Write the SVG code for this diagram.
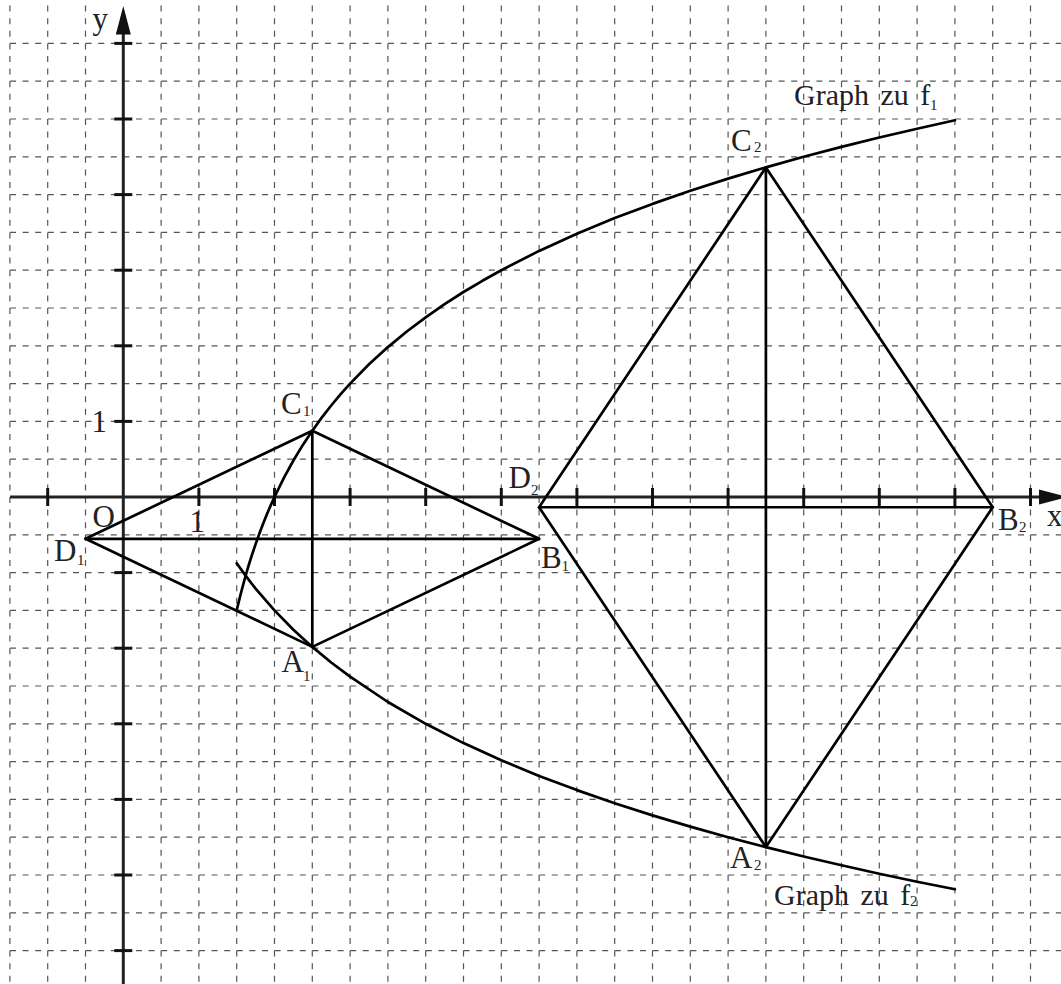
<svg xmlns="http://www.w3.org/2000/svg" width="1061" height="984" viewBox="0 0 1061 984">
<style>
.grid line{stroke:#555;stroke-width:1.2;stroke-dasharray:6 6.6}
.axis{stroke:#222;stroke-width:3;fill:none}
.tick{stroke:#111;stroke-width:3}
.ln{stroke:#000;stroke-width:2.7;fill:none;stroke-linejoin:round;stroke-linecap:round}
text{font-family:"Liberation Serif","Times New Roman",serif;fill:#222}
.lb{font-size:31px}
.gl{font-size:30px;word-spacing:4px}
.sb{font-size:15px}
</style>
<rect width="1061" height="984" fill="#fff"/>
<g id="grid" class="grid">
<line x1="9.9" y1="5.6" x2="9.9" y2="984"/><line x1="47.7" y1="5.6" x2="47.7" y2="984"/><line x1="85.5" y1="5.6" x2="85.5" y2="984"/><line x1="161.1" y1="5.6" x2="161.1" y2="984"/><line x1="198.9" y1="5.6" x2="198.9" y2="984"/><line x1="236.7" y1="5.6" x2="236.7" y2="984"/><line x1="274.5" y1="5.6" x2="274.5" y2="984"/><line x1="312.3" y1="5.6" x2="312.3" y2="984"/><line x1="350.1" y1="5.6" x2="350.1" y2="984"/><line x1="387.9" y1="5.6" x2="387.9" y2="984"/><line x1="425.7" y1="5.6" x2="425.7" y2="984"/><line x1="463.5" y1="5.6" x2="463.5" y2="984"/><line x1="501.3" y1="5.6" x2="501.3" y2="984"/><line x1="539.1" y1="5.6" x2="539.1" y2="984"/><line x1="576.9" y1="5.6" x2="576.9" y2="984"/><line x1="614.7" y1="5.6" x2="614.7" y2="984"/><line x1="652.5" y1="5.6" x2="652.5" y2="984"/><line x1="690.3" y1="5.6" x2="690.3" y2="984"/><line x1="728.1" y1="5.6" x2="728.1" y2="984"/><line x1="765.9" y1="5.6" x2="765.9" y2="984"/><line x1="803.7" y1="5.6" x2="803.7" y2="984"/><line x1="841.5" y1="5.6" x2="841.5" y2="984"/><line x1="879.3" y1="5.6" x2="879.3" y2="984"/><line x1="917.1" y1="5.6" x2="917.1" y2="984"/><line x1="954.9" y1="5.6" x2="954.9" y2="984"/><line x1="992.7" y1="5.6" x2="992.7" y2="984"/><line x1="1030.5" y1="5.6" x2="1030.5" y2="984"/>
<line x1="10" y1="43.4" x2="1061" y2="43.4"/><line x1="10" y1="81.2" x2="1061" y2="81.2"/><line x1="10" y1="119" x2="1061" y2="119"/><line x1="10" y1="156.8" x2="1061" y2="156.8"/><line x1="10" y1="194.6" x2="1061" y2="194.6"/><line x1="10" y1="232.4" x2="1061" y2="232.4"/><line x1="10" y1="270.2" x2="1061" y2="270.2"/><line x1="10" y1="308" x2="1061" y2="308"/><line x1="10" y1="345.8" x2="1061" y2="345.8"/><line x1="10" y1="383.6" x2="1061" y2="383.6"/><line x1="10" y1="421.4" x2="1061" y2="421.4"/><line x1="10" y1="459.2" x2="1061" y2="459.2"/><line x1="10" y1="534.8" x2="1061" y2="534.8"/><line x1="10" y1="572.6" x2="1061" y2="572.6"/><line x1="10" y1="610.4" x2="1061" y2="610.4"/><line x1="10" y1="648.2" x2="1061" y2="648.2"/><line x1="10" y1="686" x2="1061" y2="686"/><line x1="10" y1="723.8" x2="1061" y2="723.8"/><line x1="10" y1="761.6" x2="1061" y2="761.6"/><line x1="10" y1="799.4" x2="1061" y2="799.4"/><line x1="10" y1="837.2" x2="1061" y2="837.2"/><line x1="10" y1="875" x2="1061" y2="875"/><line x1="10" y1="912.8" x2="1061" y2="912.8"/><line x1="10" y1="950.6" x2="1061" y2="950.6"/>
</g>
<g id="axes">
<line class="axis" x1="10" y1="497" x2="1042" y2="497"/>
<polygon points="1039,489.5 1068,497 1039,504.5" fill="#111"/>
<line class="axis" x1="123.3" y1="984" x2="123.3" y2="32"/>
<polygon points="115.8,34.5 123.3,6 130.8,34.5" fill="#111"/>
<g class="tick">
<line x1="114.3" y1="43.4" x2="132.3" y2="43.4"/><line x1="114.3" y1="119" x2="132.3" y2="119"/><line x1="114.3" y1="194.6" x2="132.3" y2="194.6"/><line x1="114.3" y1="270.2" x2="132.3" y2="270.2"/><line x1="114.3" y1="345.8" x2="132.3" y2="345.8"/><line x1="114.3" y1="421.4" x2="132.3" y2="421.4"/><line x1="114.3" y1="572.6" x2="132.3" y2="572.6"/><line x1="114.3" y1="648.2" x2="132.3" y2="648.2"/><line x1="114.3" y1="723.8" x2="132.3" y2="723.8"/><line x1="114.3" y1="799.4" x2="132.3" y2="799.4"/><line x1="114.3" y1="875" x2="132.3" y2="875"/><line x1="114.3" y1="950.6" x2="132.3" y2="950.6"/>
<line x1="47.7" y1="488" x2="47.7" y2="506"/><line x1="198.9" y1="488" x2="198.9" y2="506"/><line x1="274.5" y1="488" x2="274.5" y2="506"/><line x1="350.1" y1="488" x2="350.1" y2="506"/><line x1="425.7" y1="488" x2="425.7" y2="506"/><line x1="501.3" y1="488" x2="501.3" y2="506"/><line x1="576.9" y1="488" x2="576.9" y2="506"/><line x1="652.5" y1="488" x2="652.5" y2="506"/><line x1="728.1" y1="488" x2="728.1" y2="506"/><line x1="803.7" y1="488" x2="803.7" y2="506"/><line x1="879.3" y1="488" x2="879.3" y2="506"/><line x1="954.9" y1="488" x2="954.9" y2="506"/><line x1="1030.5" y1="488" x2="1030.5" y2="506"/>
</g>
<text class="lb" x="92.5" y="28.5">y</text>
<text class="lb" x="1047" y="526">x</text>
<text class="lb" x="92.5" y="526.5">O</text>
<text class="lb" x="189.5" y="531.5">1</text>
<text class="lb" x="91.5" y="431.5">1</text>
</g>
<g id="connectors">
<polyline id="graph-f1" class="ln" points="236.7,610.4 240.5,594.8 244.3,580.5 248.0,567.5 251.8,555.4 255.6,544.1 259.4,533.5 263.2,523.6 266.9,514.2 270.7,505.4 274.5,497.0 284.0,477.7 293.4,460.5 302.85,444.9 312.3,430.7 321.75,417.6 331.2,405.5 340.65,394.2 350.1,383.6 369.0,364.3 387.9,347.1 406.8,331.5 425.7,317.3 444.6,304.2 463.5,292.0 482.4,280.8 501.3,270.2 539.1,250.9 576.9,233.7 614.7,218.1 652.5,203.9 690.3,190.8 728.1,178.6 765.9,167.4 803.7,156.8 841.5,146.9 879.3,137.5 917.1,128.7 954.9,120.3"/>
<polyline id="graph-f2" class="ln" points="236.7,563.3 246.15,576.4 255.6,588.6 274.5,610.4 293.4,629.7 312.3,646.9 331.2,662.5 350.1,676.7 387.9,702.0 425.7,723.8 463.5,743.1 501.3,760.3 539.1,775.9 576.9,790.1 614.7,803.2 652.5,815.4 690.3,826.6 728.1,837.2 765.9,847.1 803.7,856.5 841.5,865.3 879.3,873.7 917.1,881.7 954.9,889.3"/>
<polygon id="rhombus1" class="ln" points="85.5,538.8 312.3,430.7 539.1,538.8 312.3,646.9"/>
<line class="ln" x1="85.5" y1="538.8" x2="539.1" y2="538.8"/>
<line class="ln" x1="312.3" y1="430.7" x2="312.3" y2="646.9"/>
<polygon id="rhombus2" class="ln" points="539.1,507.25 765.9,167.4 992.7,507.25 765.9,847.1"/>
<line class="ln" x1="539.1" y1="507.25" x2="992.7" y2="507.25"/>
<line class="ln" x1="765.9" y1="167.4" x2="765.9" y2="847.1"/>
</g>
<g id="A1"><text class="lb" x="281.5" y="672.3">A</text><text class="sb" x="303" y="681">1</text></g>
<g id="B1"><text class="lb" x="541" y="568.3">B</text><text class="sb" x="561.5" y="571">1</text></g>
<g id="C1"><text class="lb" x="281" y="413.5">C</text><text class="sb" x="303" y="416">1</text></g>
<g id="D1"><text class="lb" x="54" y="561">D</text><text class="sb" x="77" y="565">1</text></g>
<g id="A2"><text class="lb" x="730" y="868.3">A</text><text class="sb" x="754" y="870">2</text></g>
<g id="B2"><text class="lb" x="998" y="530">B</text><text class="sb" x="1019" y="531.7">2</text></g>
<g id="C2"><text class="lb" x="731" y="150.7">C</text><text class="sb" x="754" y="152">2</text></g>
<g id="D2"><text class="lb" x="508.5" y="488.3">D</text><text class="sb" x="531" y="495">2</text></g>
<g id="label-f1"><text class="gl" x="794" y="105">Graph zu f</text><text class="sb" x="930" y="110">1</text></g>
<g id="label-f2"><text class="gl" x="774" y="905">Graph zu f</text><text class="sb" x="910" y="906">2</text></g>
</svg>
